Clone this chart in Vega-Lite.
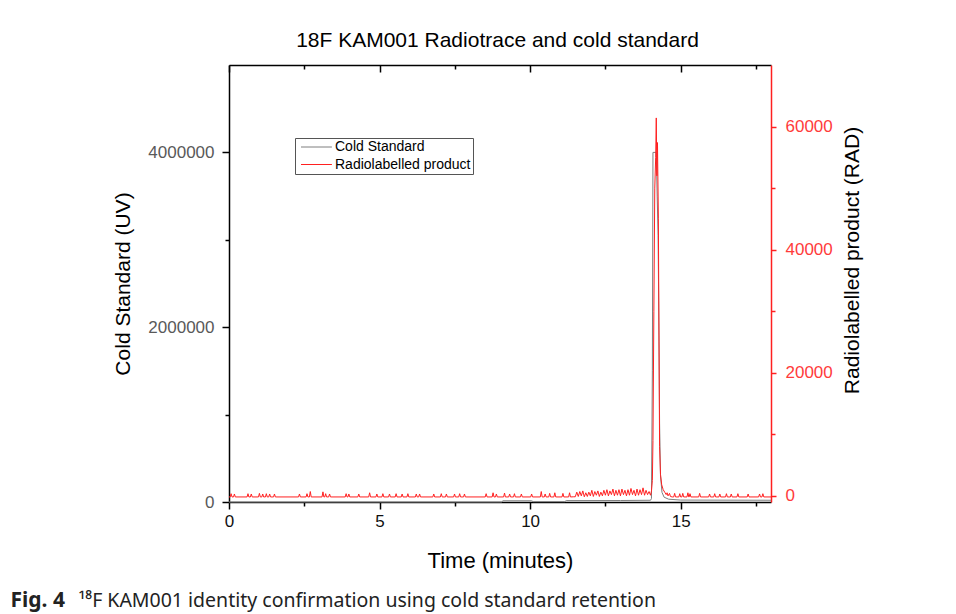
{
  "$schema": "https://vega.github.io/schema/vega-lite/v6.json",
  "width": 542,
  "height": 437,
  "autosize": {"type": "none"},
  "padding": {"left": 229, "top": 65, "right": 185, "bottom": 112},
  "background": "white",
  "config": {
    "font": "Liberation Sans",
    "view": {"stroke": null},
    "axis": {"grid": false, "labelFont": "Liberation Sans", "titleFont": "Liberation Sans", "titleFontWeight": "normal", "labelFlush": false, "labelOverlap": false}
  },
  "datasets": {
    "uv": [
      {"t":0,"v":0},{"t":9.05,"v":0},{"t":9.1,"v":14000},{"t":10.05,"v":14000},{"t":10.1,"v":4000},{"t":11.15,"v":4000},{"t":11.2,"v":16000},{"t":13.0,"v":17000},{"t":14.0,"v":20000},{"t":14.03,"v":40000},{"t":14.06,"v":1500000},{"t":14.08,"v":4000000},{"t":14.19,"v":4000000},{"t":14.22,"v":3500000},{"t":14.25,"v":3050000},{"t":14.28,"v":1900000},{"t":14.3,"v":900000},{"t":14.33,"v":300000},{"t":14.38,"v":110000},{"t":14.45,"v":55000},{"t":14.6,"v":32000},{"t":15.0,"v":22000},{"t":18,"v":20000}
    ],
    "rad": [
      {"t":0,"v":-180},
      {"t":0.04,"v":-180},{"t":0.07,"v":350},{"t":0.1,"v":-180},
      {"t":0.15,"v":-180},{"t":0.18,"v":300},{"t":0.21,"v":-180},
      {"t":0.6,"v":-180},{"t":0.63,"v":350},{"t":0.66,"v":-180},
      {"t":0.71,"v":-180},{"t":0.74,"v":300},{"t":0.77,"v":-180},
      {"t":0.98,"v":-180},{"t":1.01,"v":400},{"t":1.04,"v":-180},
      {"t":1.09,"v":-180},{"t":1.12,"v":300},{"t":1.15,"v":-180},
      {"t":1.21,"v":-180},{"t":1.24,"v":350},{"t":1.27,"v":-180},
      {"t":1.32,"v":-180},{"t":1.35,"v":300},{"t":1.38,"v":-180},
      {"t":1.48,"v":-180},{"t":1.51,"v":300},{"t":1.54,"v":-180},
      {"t":2.31,"v":-180},{"t":2.34,"v":300},{"t":2.37,"v":-180},
      {"t":2.56,"v":-180},{"t":2.59,"v":350},{"t":2.62,"v":-180},
      {"t":2.67,"v":-180},{"t":2.7,"v":700},{"t":2.73,"v":-180},
      {"t":3.09,"v":-180},{"t":3.12,"v":650},{"t":3.15,"v":-180},
      {"t":3.18,"v":-180},{"t":3.21,"v":350},{"t":3.24,"v":-180},
      {"t":3.31,"v":-180},{"t":3.34,"v":300},{"t":3.37,"v":-180},
      {"t":3.86,"v":-180},{"t":3.89,"v":350},{"t":3.92,"v":-180},
      {"t":3.95,"v":-180},{"t":3.98,"v":300},{"t":4.01,"v":-180},
      {"t":4.28,"v":-180},{"t":4.31,"v":300},{"t":4.34,"v":-180},
      {"t":4.64,"v":-180},{"t":4.67,"v":500},{"t":4.7,"v":-180},
      {"t":4.88,"v":-180},{"t":4.91,"v":300},{"t":4.94,"v":-180},
      {"t":5.08,"v":-180},{"t":5.11,"v":350},{"t":5.14,"v":-180},
      {"t":5.3,"v":-180},{"t":5.33,"v":300},{"t":5.36,"v":-180},
      {"t":5.52,"v":-180},{"t":5.55,"v":350},{"t":5.58,"v":-180},
      {"t":5.72,"v":-180},{"t":5.75,"v":300},{"t":5.78,"v":-180},
      {"t":5.91,"v":-180},{"t":5.94,"v":350},{"t":5.97,"v":-180},
      {"t":6.19,"v":-180},{"t":6.22,"v":300},{"t":6.25,"v":-180},
      {"t":6.3,"v":-180},{"t":6.33,"v":300},{"t":6.36,"v":-180},
      {"t":6.77,"v":-180},{"t":6.8,"v":300},{"t":6.83,"v":-180},
      {"t":7.02,"v":-180},{"t":7.05,"v":350},{"t":7.08,"v":-180},
      {"t":7.19,"v":-180},{"t":7.22,"v":300},{"t":7.25,"v":-180},
      {"t":7.46,"v":-180},{"t":7.49,"v":300},{"t":7.52,"v":-180},
      {"t":7.63,"v":-180},{"t":7.66,"v":350},{"t":7.69,"v":-180},
      {"t":7.79,"v":-180},{"t":7.82,"v":300},{"t":7.85,"v":-180},
      {"t":8.51,"v":-180},{"t":8.54,"v":350},{"t":8.57,"v":-180},
      {"t":8.74,"v":-180},{"t":8.77,"v":500},{"t":8.8,"v":-180},
      {"t":8.85,"v":-180},{"t":8.88,"v":300},{"t":8.91,"v":-180},
      {"t":9.12,"v":-180},{"t":9.15,"v":450},{"t":9.18,"v":-180},
      {"t":9.29,"v":-180},{"t":9.32,"v":300},{"t":9.35,"v":-180},
      {"t":9.45,"v":-180},{"t":9.48,"v":350},{"t":9.51,"v":-180},
      {"t":9.68,"v":-180},{"t":9.71,"v":300},{"t":9.74,"v":-180},
      {"t":10.02,"v":-180},{"t":10.05,"v":300},{"t":10.08,"v":-180},
      {"t":10.34,"v":-180},{"t":10.37,"v":700},{"t":10.4,"v":-180},
      {"t":10.47,"v":-180},{"t":10.5,"v":300},{"t":10.53,"v":-180},
      {"t":10.62,"v":-180},{"t":10.65,"v":400},{"t":10.68,"v":-180},
      {"t":10.79,"v":-180},{"t":10.82,"v":500},{"t":10.85,"v":-180},
      {"t":11.06,"v":-180},{"t":11.09,"v":400},{"t":11.12,"v":-180},
      {"t":11.28,"v":-180},{"t":11.31,"v":500},{"t":11.34,"v":-180},
      {"t":11.45,"v":-150},
      {"t":11.5,"v":-150},{"t":11.55,"v":600},{"t":11.6,"v":-100},{"t":11.65,"v":700},{"t":11.7,"v":0},{"t":11.75,"v":800},{"t":11.8,"v":-150},{"t":11.85,"v":500},{"t":11.9,"v":-100},{"t":11.95,"v":600},
      {"t":12.0,"v":0},{"t":12.05,"v":900},{"t":12.1,"v":-100},{"t":12.15,"v":700},{"t":12.2,"v":100},{"t":12.25,"v":800},{"t":12.3,"v":-100},{"t":12.35,"v":600},{"t":12.4,"v":0},{"t":12.45,"v":900},
      {"t":12.5,"v":100},{"t":12.55,"v":1000},{"t":12.6,"v":0},{"t":12.65,"v":800},{"t":12.7,"v":200},{"t":12.75,"v":1100},{"t":12.8,"v":0},{"t":12.85,"v":900},{"t":12.9,"v":100},{"t":12.95,"v":1000},
      {"t":13.0,"v":0},{"t":13.05,"v":1100},{"t":13.1,"v":200},{"t":13.15,"v":900},{"t":13.2,"v":0},{"t":13.25,"v":1000},{"t":13.3,"v":100},{"t":13.35,"v":1200},{"t":13.4,"v":200},{"t":13.45,"v":900},
      {"t":13.5,"v":0},{"t":13.55,"v":1100},{"t":13.6,"v":100},{"t":13.65,"v":1000},{"t":13.7,"v":200},{"t":13.75,"v":1300},{"t":13.8,"v":100},{"t":13.85,"v":900},{"t":13.9,"v":200},{"t":13.95,"v":700},
      {"t":14.0,"v":100},
      {"t":14.03,"v":800},{"t":14.06,"v":2500},{"t":14.08,"v":9000},{"t":14.11,"v":30000},{"t":14.14,"v":50000},{"t":14.17,"v":55000},{"t":14.19,"v":61400},{"t":14.21,"v":52000},{"t":14.23,"v":57400},{"t":14.26,"v":45000},{"t":14.28,"v":25000},{"t":14.3,"v":8000},{"t":14.33,"v":3500},{"t":14.37,"v":1800},{"t":14.42,"v":1000},{"t":14.47,"v":600},{"t":14.52,"v":200},{"t":14.55,"v":500},{"t":14.58,"v":0},{"t":14.63,"v":400},{"t":14.66,"v":-100},{"t":14.72,"v":-180},
      {"t":14.77,"v":-180},{"t":14.8,"v":400},{"t":14.83,"v":-180},
      {"t":14.94,"v":-180},{"t":14.97,"v":350},{"t":15.0,"v":-180},
      {"t":15.04,"v":-180},{"t":15.07,"v":400},{"t":15.1,"v":-180},
      {"t":15.21,"v":-180},{"t":15.24,"v":500},{"t":15.27,"v":-180},
      {"t":15.28,"v":-180},{"t":15.31,"v":350},{"t":15.34,"v":-180},
      {"t":15.6,"v":-180},{"t":15.63,"v":400},{"t":15.66,"v":-180},
      {"t":15.93,"v":-180},{"t":15.96,"v":300},{"t":15.99,"v":-180},
      {"t":16.1,"v":-180},{"t":16.13,"v":350},{"t":16.16,"v":-180},
      {"t":16.27,"v":-180},{"t":16.3,"v":300},{"t":16.33,"v":-180},
      {"t":16.49,"v":-180},{"t":16.52,"v":350},{"t":16.55,"v":-180},
      {"t":16.65,"v":-180},{"t":16.68,"v":300},{"t":16.71,"v":-180},
      {"t":16.87,"v":-180},{"t":16.9,"v":350},{"t":16.93,"v":-180},
      {"t":17.21,"v":-180},{"t":17.24,"v":300},{"t":17.27,"v":-180},
      {"t":17.59,"v":-180},{"t":17.62,"v":300},{"t":17.65,"v":-180},
      {"t":17.7,"v":-180},{"t":17.73,"v":350},{"t":17.76,"v":-180},
      {"t":18,"v":-180}
    ]
  },
  "layer": [
    {
      "data": {"name": "uv"},
      "mark": {"type": "line", "strokeWidth": 1, "interpolate": "linear"},
      "encoding": {
        "x": {"field": "t", "type": "quantitative", "scale": {"domain": [0, 18], "nice": false, "zero": false},
          "axis": {"orient": "bottom", "values": [0, 5, 10, 15], "labelFontSize": 17, "labelColor": "#111", "labelPadding": 4, "tickSize": 7, "tickWidth": 1.5, "tickColor": "black", "domainColor": "black", "domainWidth": 1.5,
            "title": "Time (minutes)", "titleFontSize": 22, "titleColor": "black", "titleY": 65, "titleBaseline": "alphabetic"}},
        "y": {"field": "v", "type": "quantitative", "scale": {"domain": [0, 5000000], "nice": false, "zero": false},
          "axis": {"orient": "left", "values": [0, 2000000, 4000000], "format": "d", "labelFontSize": 17, "labelColor": "#595959", "labelPadding": 8, "tickSize": 7, "tickWidth": 1.5, "tickColor": "black", "domainColor": "black", "domainWidth": 1.5,
            "title": "Cold Standard (UV)", "titleFontSize": 21, "titleColor": "black", "titleX": -100, "titleBaseline": "alphabetic", "titleAngle": 270}},
        "color": {"datum": "Cold Standard",
          "scale": {"domain": ["Cold Standard", "Radiolabelled product"], "range": ["#7f7f7f", "#ff2020"]},
          "legend": {"orient": "none", "legendX": 66, "legendY": 73, "title": null, "strokeColor": "#555", "fillColor": "white", "padding": 2,
            "symbolType": "M-1,0L9.3,0", "symbolSize": 36, "symbolStrokeWidth": 1, "labelFontSize": 14, "labelColor": "black", "labelFont": "Liberation Sans", "rowPadding": 3.5, "labelOffset": 24}}
      }
    },
    {
      "data": {"name": "rad"},
      "mark": {"type": "line", "strokeWidth": 1, "interpolate": "linear"},
      "encoding": {
        "x": {"field": "t", "type": "quantitative", "scale": {"domain": [0, 18], "nice": false, "zero": false},
          "axis": {"orient": "top", "values": [0, 5, 10, 15], "labels": false, "tickSize": -7, "tickWidth": 1.5, "tickColor": "black", "domainColor": "black", "domainWidth": 1.5,
            "title": "18F KAM001 Radiotrace and cold standard", "titleFontSize": 21, "titleColor": "black", "titleY": -19, "titleX": 268, "titleBaseline": "alphabetic"}},
        "y": {"field": "v", "type": "quantitative", "scale": {"domain": [-1000, 70000], "nice": false, "zero": false},
          "axis": {"orient": "right", "values": [0, 20000, 40000, 60000], "format": "d", "labelFontSize": 17, "labelColor": "#ff3b3b", "labelPadding": 9, "tickSize": 5, "tickWidth": 1.5, "tickColor": "#ff2020", "domainColor": "#ff2020", "domainWidth": 1.5,
            "title": "Radiolabelled product (RAD)", "titleFontSize": 21, "titleColor": "black", "titleX": 87, "titleY": 195, "titleBaseline": "alphabetic", "titleAngle": 270}},
        "color": {"datum": "Radiolabelled product"}
      }
    },
    {
      "data": {"name": "uv"},
      "mark": {"type": "line", "opacity": 0},
      "encoding": {
        "x": {"field": "t", "type": "quantitative", "scale": {"domain": [0, 18], "nice": false, "zero": false},
          "axis": {"orient": "bottom", "values": [2.5, 7.5, 12.5, 17.5], "labels": false, "domain": false, "tickSize": 4, "tickWidth": 1.5, "tickColor": "black",
            "title": "Fig. 4", "titleFont": "Noto Sans", "titleFontWeight": "bold", "titleFontSize": 21, "titleColor": "#222", "titleX": -219, "titleY": 104, "titleAlign": "left", "titleBaseline": "alphabetic"}},
        "y": {"field": "v", "type": "quantitative", "scale": {"domain": [0, 5000000], "nice": false, "zero": false},
          "axis": {"orient": "left", "values": [1000000, 3000000], "labels": false, "domain": false, "tickSize": 4, "tickWidth": 1.5, "tickColor": "black", "title": null}}
      }
    },
    {
      "data": {"name": "rad"},
      "mark": {"type": "line", "opacity": 0},
      "encoding": {
        "x": {"field": "t", "type": "quantitative", "scale": {"domain": [0, 18], "nice": false, "zero": false},
          "axis": {"orient": "top", "values": [2.5, 7.5, 12.5, 17.5], "labels": false, "domain": false, "tickSize": -4, "tickWidth": 1.5, "tickColor": "black",
            "title": "¹⁸F KAM001 identity confirmation using cold standard retention", "titleFont": "Noto Sans", "titleFontWeight": "normal", "titleFontSize": 19.5, "titleColor": "#222", "titleX": -151, "titleY": 541, "titleAlign": "left", "titleBaseline": "alphabetic"}},
        "y": {"field": "v", "type": "quantitative", "scale": {"domain": [-1000, 70000], "nice": false, "zero": false},
          "axis": {"orient": "right", "values": [10000, 30000, 50000], "labels": false, "domain": false, "tickSize": 4, "tickWidth": 1.5, "tickColor": "#ff2020", "title": null}}
      }
    }
  ],
  "resolve": {"scale": {"y": "independent"}, "axis": {"x": "independent", "y": "independent"}}
}
